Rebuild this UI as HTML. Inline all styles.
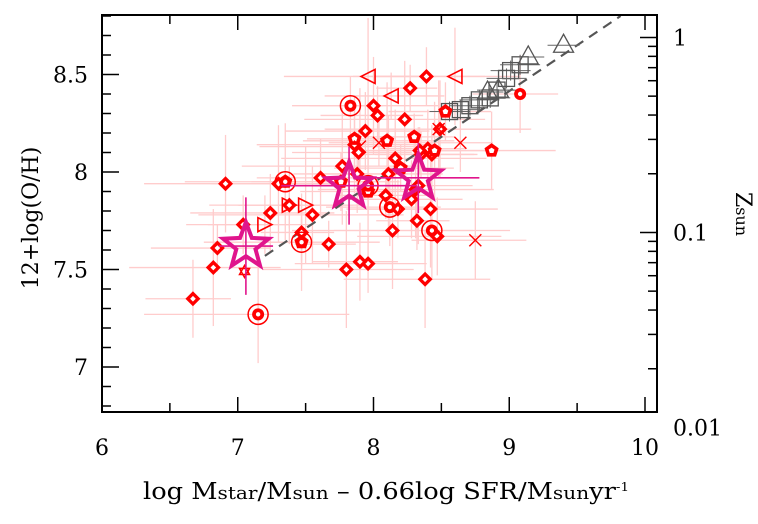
<!DOCTYPE html>
<html><head><meta charset="utf-8"><style>
html,body{margin:0;padding:0;background:#fff;}
svg{display:block;}
text{font-family:"DejaVu Serif","Liberation Serif",serif;fill:#000;}
</style></head><body>
<div style="position:relative;width:758px;height:524px">
<svg id="chart" width="758" height="524" viewBox="0 0 758 524" style="position:absolute;left:0;top:0">
<g id="errs"></g>
<g id="grey"></g>
<g id="marks"></g>
<g id="axes"></g>
<text x="386" y="499" text-anchor="middle" font-size="23" textLength="486" lengthAdjust="spacingAndGlyphs">log M<tspan font-size="18">star</tspan>/M<tspan font-size="18">sun</tspan>  –  0.66log SFR/M<tspan font-size="18">sun</tspan>yr<tspan font-size="12" dy="-8">-1</tspan></text>
<text transform="translate(38,218) rotate(-90)" text-anchor="middle" font-size="22">12+log(O/H)</text>
<text transform="translate(736,214) rotate(90)" text-anchor="middle" font-size="22">Z<tspan font-size="16">sun</tspan></text>
</svg>
</div>
<script>
const xTicks=[6,7,8,9,10];
const yTicks=[7,7.5,8,8.5];
const zTicks=[1,0.1,0.01];
const zLabels=["1","0.1","0.01"];
const diaX=[6.67,6.82,6.85,6.91,7.04,7.24,7.30,7.38,7.55,7.47,7.61,7.77,7.67,7.86,7.96,7.90,7.80,7.89,8.00,8.03,7.94,8.11,8.09,8.16,8.18,8.28,8.23,8.27,8.31,8.39,8.40,8.42,8.35,8.38,8.43,8.47,8.33,8.34,8.49,8.32,7.88,8.14];
const diaY=[7.35,7.51,7.61,7.94,7.73,7.79,7.94,7.83,7.78,7.69,7.97,8.03,7.63,8.14,7.53,7.54,7.50,8.10,8.34,8.29,8.21,7.99,7.88,8.07,7.81,7.86,8.27,8.43,7.91,8.49,8.12,7.81,8.09,7.45,8.09,7.67,7.93,8.11,8.22,7.75,7.99,7.70];
const pentX=[7.35,7.47,7.76,7.86,8.10,8.20,8.45,8.53,8.87,7.96,8.30];
const pentY=[7.95,7.64,7.95,8.17,8.16,8.02,8.11,8.31,8.11,7.90,8.18];
const bullX=[7.15,7.83,8.12,7.35,7.47,8.43,7.96,9.08];
const bullY=[7.27,8.34,7.82,7.95,7.64,7.70,7.93,8.40];
const triLX=[7.96,8.13,8.60];
const triLY=[8.49,8.39,8.49];
const triRX=[7.20,7.38,7.50];
const triRY=[7.73,7.83,7.83];
const crossX=[8.04,8.48,8.64,8.75,7.90];
const crossY=[8.15,8.22,8.15,7.65,8.13];
const starX=[7.06,7.82,8.33];
const starY=[7.62,7.93,7.97];
const starXErr=[0.2,0.5,0.45];
const starYErr=[0.25,0.2,0.18];
const sqX=[8.71,8.78,8.91,9.01,9.08,8.98,8.56,8.64,8.86];
const sqY=[8.34,8.37,8.42,8.52,8.55,8.48,8.31,8.32,8.38];
const gtX=[8.92,9.14,9.40,8.84];
const gtY=[8.42,8.59,8.65,8.41];
const errXlo=[0.35,0.5,0.25,0.6,0.3];
const errYlo=[0.25,0.15,0.2,0.3,0.12];

const X0=102,X1=657,Y0=412,Y1=15;
const sx=v=>102+(v-6)*135.75;
const sy=v=>172-(v-8)*195;
const NS="http://www.w3.org/2000/svg";
function mk(tag,attrs,parent){const e=document.createElementNS(NS,tag);for(const k in attrs)e.setAttribute(k,attrs[k]);(parent||document.getElementById('marks')).appendChild(e);return e;}
const errs=document.getElementById('errs'),marks=document.getElementById('marks'),grey=document.getElementById('grey'),axes=document.getElementById('axes');

const allX=diaX.concat(pentX,bullX,triLX,triRX,crossX);
const allY=diaY.concat(pentY,bullY,triLY,triRY,crossY);
for(let i=0;i<allX.length;i++){
  const ex=errXlo[i%5]+(i%3)*0.12, ey=errYlo[(i+2)%5];
  const cx=sx(allX[i]),cy=sy(allY[i]);
  const h=mk('line',{x1:sx(allX[i]-ex),x2:sx(allX[i]+ex*0.8),y1:cy,y2:cy,stroke:'#ffcccc','stroke-width':1.3},errs);
  
  
  const v=mk('line',{x1:cx,x2:cx,y1:sy(allY[i]-ey),y2:sy(allY[i]+ey),stroke:'#ffcccc','stroke-width':1.3},errs);
  
  
}
const fit=mk('line',{x1:sx(7.2),y1:sy(7.57),x2:sx(9.82),y2:sy(8.80),stroke:'#555','stroke-width':2.2,'stroke-dasharray':'10,7'},grey);


for(let i=0;i<sqX.length;i++){
  const cx=sx(sqX[i]),cy=sy(sqY[i]);
  mk('line',{x1:cx-20,x2:cx+20,y1:cy,y2:cy,stroke:'#666','stroke-width':1},grey);
  mk('line',{x1:cx,x2:cx,y1:cy-10,y2:cy+10,stroke:'#666','stroke-width':1},grey);
  const r=mk('rect',{x:cx-8,y:cy-8,width:16,height:16,fill:'none',stroke:'#555','stroke-width':1.3},grey);
  
  
}
for(let i=0;i<gtX.length;i++){
  const cx=sx(gtX[i]),cy=sy(gtY[i]);
  mk('line',{x1:cx-16,x2:cx+16,y1:cy,y2:cy,stroke:'#666','stroke-width':1},grey);
  const t=mk('polygon',{points:`${cx},${cy-11} ${cx-10},${cy+7} ${cx+10},${cy+7}`,fill:'none',stroke:'#555','stroke-width':1.3},grey);
  
  
}
for(let i=0;i<diaX.length;i++){
  const cx=sx(diaX[i]),cy=sy(diaY[i]);
  const d=mk('polygon',{points:`${cx},${cy-7.5} ${cx+7.5},${cy} ${cx},${cy+7.5} ${cx-7.5},${cy}`,fill:'#f00'});
  
  
  mk('rect',{x:cx-2,y:cy-2,width:4,height:4,fill:'#fff',transform:`rotate(45 ${cx} ${cy})`});
}
function pent(cx,cy,r){let p=[];for(let k=0;k<5;k++){const a=-Math.PI/2+k*2*Math.PI/5;p.push((cx+r*Math.cos(a)).toFixed(1)+','+(cy+r*Math.sin(a)).toFixed(1));}return p.join(' ');}
for(let i=0;i<pentX.length;i++){
  const cx=sx(pentX[i]),cy=sy(pentY[i]);
  const p=mk('polygon',{points:pent(cx,cy,7.5),fill:'#f00'});
  
  
  mk('polygon',{points:pent(cx,cy,3),fill:'#fff'});
}
for(let i=0;i<bullX.length;i++){
  const cx=sx(bullX[i]),cy=sy(bullY[i]);
  const last=i===bullX.length-1;
  if(!last){const c=mk('circle',{cx,cy,r:10,fill:'none',stroke:'#f00','stroke-width':1.5});
  
  }
  mk('circle',{cx,cy,r:6,fill:'#f00'});
  mk('circle',{cx,cy,r:2.2,fill:'#fff'});
}
for(let i=0;i<triLX.length;i++){
  const cx=sx(triLX[i]),cy=sy(triLY[i]);
  const t=mk('polygon',{points:`${cx-7},${cy} ${cx+7},${cy-7} ${cx+7},${cy+7}`,fill:'none',stroke:'#f00','stroke-width':1.6});
  
  
}
for(let i=0;i<triRX.length;i++){
  const cx=sx(triRX[i]),cy=sy(triRY[i]);
  const t=mk('polygon',{points:`${cx+7},${cy} ${cx-7},${cy-7} ${cx-7},${cy+7}`,fill:'none',stroke:'#f00','stroke-width':1.6});
  
  
}
for(let i=0;i<crossX.length;i++){
  const cx=sx(crossX[i]),cy=sy(crossY[i]);
  const c=mk('path',{d:`M${cx-6},${cy-6}L${cx+6},${cy+6}M${cx-6},${cy+6}L${cx+6},${cy-6}`,stroke:'#f00','stroke-width':1.4});
  
  
}
(function(){const cx=sx(7.05),cy=sy(7.49);
  mk('polygon',{points:`${cx},${cy-6} ${cx+5},${cy+3} ${cx-5},${cy+3}`,fill:'none',stroke:'#f00','stroke-width':1.5});
  mk('polygon',{points:`${cx},${cy+6} ${cx+5},${cy-3} ${cx-5},${cy-3}`,fill:'none',stroke:'#f00','stroke-width':1.5});})();
function star(cx,cy,R){let p=[];for(let k=0;k<10;k++){const r=k%2?R*0.42:R;const a=-Math.PI/2+k*Math.PI/5;p.push((cx+r*Math.cos(a)).toFixed(1)+','+(cy+r*Math.sin(a)).toFixed(1));}return p.join(' ');}
for(let i=0;i<starX.length;i++){
  const cx=sx(starX[i]),cy=sy(starY[i]);
  mk('line',{x1:sx(starX[i]-starXErr[i]),x2:sx(starX[i]+starXErr[i]),y1:cy,y2:cy,stroke:'#e0158c','stroke-width':1.6});
  mk('line',{x1:cx,x2:cx,y1:sy(starY[i]-starYErr[i]),y2:sy(starY[i]+starYErr[i]),stroke:'#e0158c','stroke-width':1.6});
  const s=mk('polygon',{points:star(cx,cy,24),fill:'none',stroke:'#e0158c','stroke-width':4});
  
  
}
mk('rect',{x:X0,y:Y1,width:X1-X0,height:Y0-Y1,fill:'none',stroke:'#000','stroke-width':2},axes);
for(let v=6.5;v<10.01;v+=0.5){const x=sx(v);const L=(Math.abs(v-Math.round(v))<0.01)?15:9;
  mk('line',{x1:x,x2:x,y1:Y0,y2:Y0-L,stroke:'#000','stroke-width':1.5},axes);
  mk('line',{x1:x,x2:x,y1:Y1,y2:Y1+L,stroke:'#000','stroke-width':1.5},axes);}
for(let v=6.8;v<8.81;v+=0.1){const y=sy(v);if(y<Y1||y>Y0)continue;const maj=Math.abs(v*2-Math.round(v*2))<0.01;
  mk('line',{x1:X0,x2:X0+(maj?17:9),y1:y,y2:y,stroke:'#000','stroke-width':1.5},axes);}
for(let d=-2;d<=0;d++){for(let m=1;m<10;m++){const z=m*Math.pow(10,d);if(d===0&&m>1)break;const y=sy(8.69+Math.log10(z));if(y<Y1||y>Y0+16)continue;
  const yy=Math.min(y,Y0);mk('line',{x1:X1,x2:X1-(m===1?17:9),y1:yy,y2:yy,stroke:'#000','stroke-width':1.5},axes);}}
xTicks.forEach(v=>{const t=mk('text',{x:sx(v),y:455,'text-anchor':'middle','font-size':22},axes);t.textContent=v;
  });
yTicks.forEach(v=>{const t=mk('text',{x:88,y:sy(v)+8,'text-anchor':'end','font-size':22},axes);t.textContent=v;
  });
zTicks.forEach((z,i)=>{const t=mk('text',{x:673,y:Math.min(sy(8.69+Math.log10(z)),428)+8,'font-size':22},axes);t.textContent=zLabels[i];
  });
</script>
</body></html>
